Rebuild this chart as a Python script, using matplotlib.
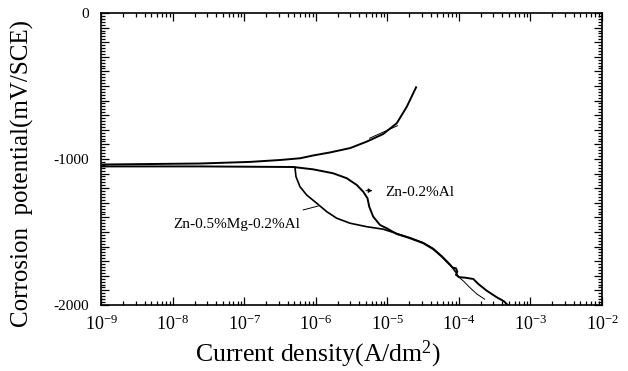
import matplotlib
matplotlib.use("Agg")
import matplotlib.pyplot as plt
from matplotlib.ticker import MultipleLocator, FuncFormatter, LogLocator, NullFormatter
import numpy as np

plt.rcParams['font.family'] = ['Liberation Serif', 'DejaVu Serif']
plt.rcParams['mathtext.fontset'] = 'custom'
plt.rcParams['mathtext.rm'] = 'Liberation Serif'
plt.rcParams['mathtext.it'] = 'Liberation Serif:italic'

# log10 of current density (A/dm2) and potential (mV/SCE)
anodic_logi = [-9.0, -7.62, -6.92, -6.50, -6.22, -6.04, -5.80, -5.52, -5.29, -5.06, -4.87, -4.73, -4.60]
anodic_E = [-1038, -1031, -1020, -1007, -995, -976, -955, -925, -881, -829, -755, -642, -509]
anodic_tafel_logi = [-5.25, -4.86]
anodic_tafel_E = [-858, -772]

al_logi = [-9.0, -7.62, -6.32, -6.04, -5.76, -5.57, -5.43, -5.34, -5.28, -5.255, -5.20, -5.105, -5.01,
           -4.87, -4.685, -4.50, -4.36, -4.24, -4.126, -4.088, -4.042, -4.024, -4.042, -3.996,
           -3.916, -3.80, -3.73, -3.613, -3.473, -3.371, -3.32]
al_E = [-1051, -1051, -1055, -1071, -1098, -1132, -1178, -1224, -1269, -1327, -1395, -1452, -1475,
        -1514, -1543, -1577, -1618, -1669, -1726, -1744, -1749, -1772, -1794, -1810,
        -1813, -1822, -1856, -1902, -1947, -1975, -2000]

mg_logi = [-6.294, -6.28, -6.224, -6.13, -5.99, -5.85, -5.71, -5.524, -5.29, -5.06,
           -4.87, -4.685, -4.50, -4.36, -4.24, -4.126, -4.05]
mg_E = [-1058, -1121, -1190, -1247, -1303, -1361, -1406, -1440, -1464, -1481,
        -1511, -1540, -1574, -1614, -1666, -1722, -1772]
mg_end_logi = [-4.05, -4.00, -3.93, -3.85, -3.75, -3.64]
mg_end_E = [-1772, -1810, -1840, -1880, -1925, -1961]
pointer_logi = [-6.178, -5.968]
pointer_E = [-1349, -1322]

fig = plt.figure(figsize=(6.28, 3.71), dpi=100)
ax = fig.add_axes([0.1616, 0.178, 0.797, 0.787])

def p(lx, e, **kw):
    ax.plot(10 ** np.array(lx), e, color='black', solid_joinstyle='round', **kw)

p(anodic_logi, anodic_E, lw=1.4)
p(anodic_tafel_logi, anodic_tafel_E, lw=0.7)
p(al_logi, al_E, lw=1.4)
p(mg_logi, mg_E, lw=1.2)
p(mg_end_logi, mg_end_E, lw=0.7)
p(pointer_logi, pointer_E, lw=0.7)

ax.set_xscale('log')
ax.set_xlim(1e-9, 1e-2)
ax.set_ylim(-2000, 0)

ax.xaxis.set_major_locator(LogLocator(base=10, numticks=20))
ax.xaxis.set_minor_locator(LogLocator(base=10, subs=np.arange(2, 10), numticks=100))
ax.xaxis.set_minor_formatter(NullFormatter())
ax.xaxis.set_major_formatter(FuncFormatter(lambda v, pos: r'10$^{%d}$' % round(np.log10(v))))

ax.yaxis.set_major_locator(MultipleLocator(100))
ax.yaxis.set_minor_locator(MultipleLocator(20))
ax.yaxis.set_major_formatter(FuncFormatter(lambda v, pos: '%d' % v if round(v) % 1000 == 0 else ''))

ax.tick_params(which='both', direction='in', top=True, right=True, width=0.9)
ax.tick_params(which='major', length=6)
ax.tick_params(which='minor', length=3)
ax.tick_params(axis='x', labelsize=13, pad=7)
ax.tick_params(axis='y', labelsize=11, pad=9)

for s in ax.spines.values():
    s.set_linewidth(1.2)

ax.set_xlabel('Current density(A/dm$^{2}$)', fontsize=18.5, va='center')
ax.xaxis.set_label_coords(0.433, -0.168)
ax.set_ylabel('Corrosion  potential(mV/SCE)', fontsize=18, va='center')
ax.yaxis.set_label_coords(-0.157, 0.45)

ax.text(10 ** -5.03, -1231, 'Zn-0.2%Al', fontsize=11, ha='left', va='center')
ax.annotate('', xy=(10 ** -5.17, -1217), xytext=(10 ** -5.34, -1217),
            arrowprops=dict(arrowstyle='-|>', lw=0.7, color='black', mutation_scale=6, linestyle=(0, (2, 1))))
ax.text(10 ** -6.22, -1452, 'Zn-0.5%Mg-0.2%Al', fontsize=11, ha='right', va='center')

fig.savefig('out.png', dpi=100)
